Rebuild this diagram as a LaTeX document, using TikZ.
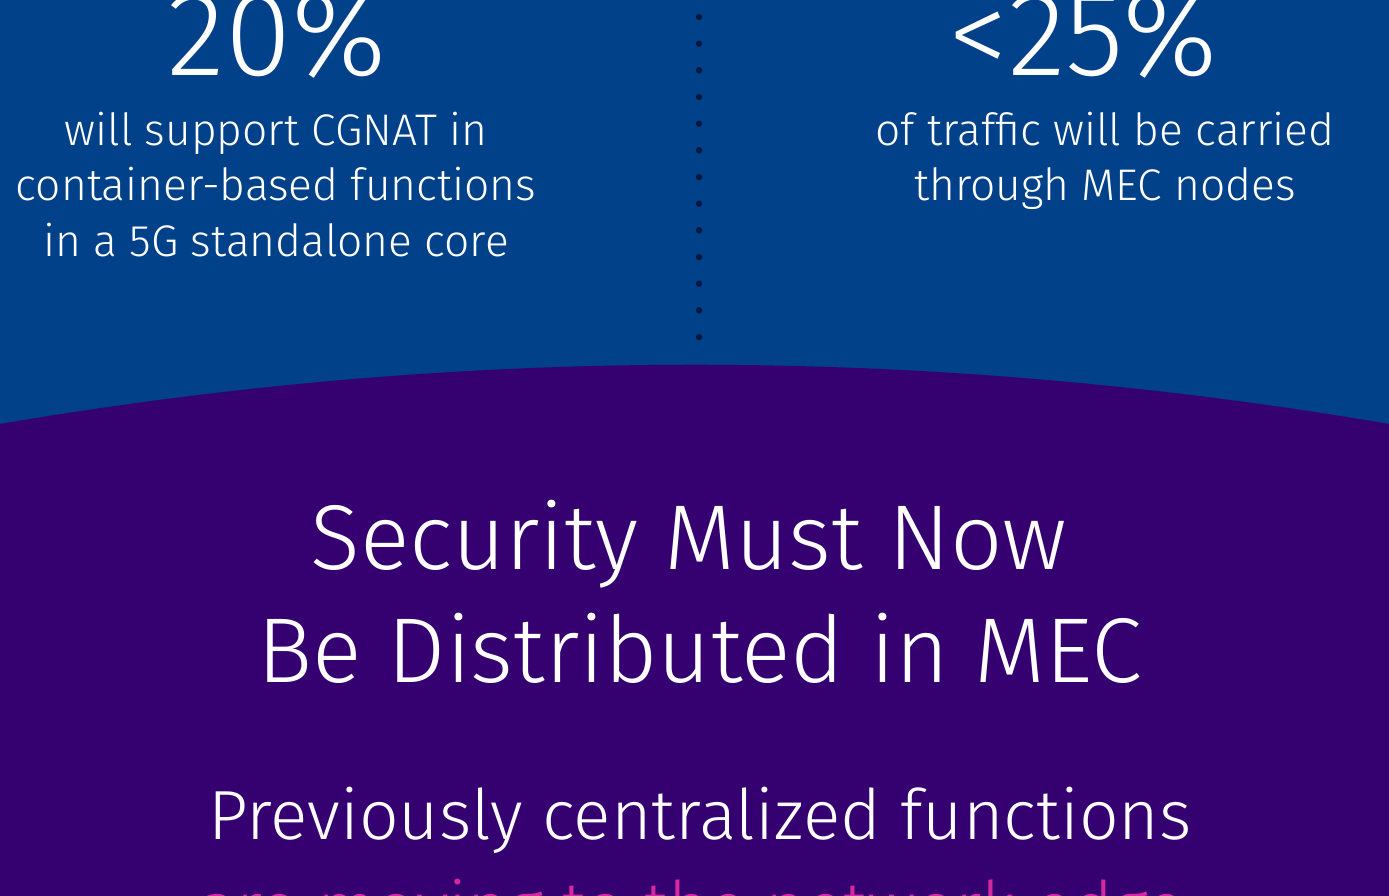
\documentclass[tikz,border=0pt]{standalone}
\usepackage{fontspec}
\setmainfont{Fira Sans Light}
\usetikzlibrary{calc}
\definecolor{bgblue}{RGB}{0,65,138}
\definecolor{bgpurple}{RGB}{53,0,111}
\definecolor{dotnavy}{RGB}{10,24,66}
\definecolor{edgepink}{RGB}{214,40,160}
\tikzset{
	bignum/.style={text=white, inner sep=0pt, anchor=base, font=\fontsize{34.2}{40}\selectfont},
	statline/.style={text=white, inner sep=0pt, anchor=base, font=\fontsize{12.6}{15}\selectfont},
	headline/.style={text=white, inner sep=0pt, anchor=base, font=\fontsize{26.2}{32}\selectfont},
	subline/.style={inner sep=0pt, anchor=base, font=\fontsize{19.8}{24}\selectfont},
}

\begin{document}
\begin{tikzpicture}
\pgfmathsetmacro{\pageW}{13.89}
\pgfmathsetmacro{\pageH}{8.96}
\pgfmathsetmacro{\leftX}{2.76}
\pgfmathsetmacro{\rightX}{11.05}

\useasboundingbox (0,0) rectangle (\pageW,\pageH);
\clip (0,0) rectangle (\pageW,\pageH);

% Draw background
\fill[bgblue] (0,0) rectangle (\pageW,\pageH);
\fill[bgpurple] (0,4.72) .. controls (4.63,5.51) and (9.26,5.51) .. (\pageW,4.72) -- (\pageW,0) -- (0,0) -- cycle;

% Draw dotted divider
\foreach \i in {0,...,12}{
	\fill[dotnavy] (6.99, 8.79-\i*0.2667) circle[radius=0.032];
}

% Left statistic
\node[bignum] (leftnum) at (2.77,8.20) {20\%};
\node[statline] (leftA) at (\leftX,7.50) {will support CGNAT in};
\node[statline] (leftB) at (\leftX,6.95) {container-based functions};
\node[statline] (leftC) at (\leftX,6.39) {in a 5G standalone core};

% Right statistic
\node[bignum] (rightnum) at (10.83,8.20) {<25\%};
\node[statline] (rightA) at (\rightX,7.50) {of traffic will be carried};
\node[statline] (rightB) at (\rightX,6.95) {through MEC nodes};

% Headline
\node[headline] (headA) at (6.89,3.26) {Security Must Now};
\node[headline] (headB) at (7.00,2.13) {Be Distributed in MEC};

% Sub headline
\node[subline, text=white] (subA) at (7.00,0.56) {Previously centralized functions};
\node[subline, text=edgepink] (subB) at (6.92,-0.36) {are moving to the network edge};
\end{tikzpicture}
\end{document}
